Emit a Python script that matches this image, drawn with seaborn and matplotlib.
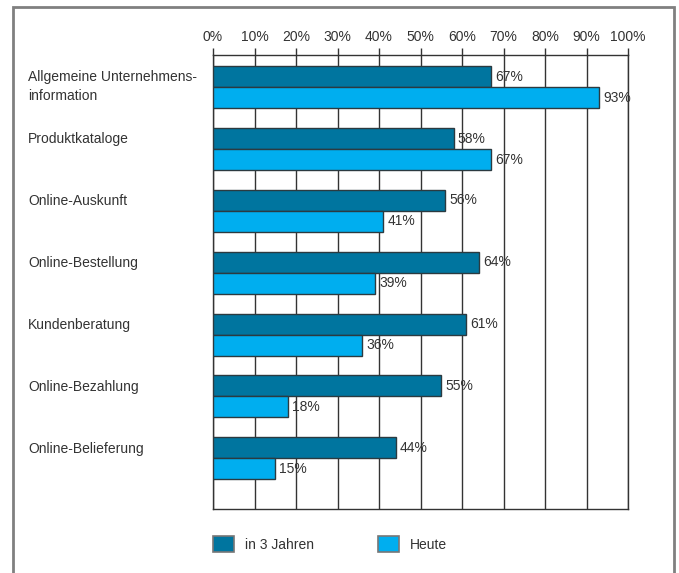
import matplotlib
matplotlib.use("Agg")
import matplotlib.pyplot as plt
from matplotlib.patches import Patch, Rectangle
from matplotlib.transforms import blended_transform_factory
import pandas as pd
import seaborn as sns

categories = [
    "Allgemeine Unternehmens-\ninformation",
    "Produktkataloge",
    "Online-Auskunft",
    "Online-Bestellung",
    "Kundenberatung",
    "Online-Bezahlung",
    "Online-Belieferung",
]
in_3_jahren = [67, 58, 56, 64, 61, 55, 44]
heute = [93, 67, 41, 39, 36, 18, 15]
series_names = ["in 3 Jahren", "Heute"]
tick_values = list(range(0, 101, 10))
tick_labels = [f"{v}%" for v in tick_values]

colors = {"in 3 Jahren": "#00759f", "Heute": "#00aeef"}

sns.set_theme(style="white")
plt.rcParams["font.family"] = ["Liberation Sans", "DejaVu Sans"]
plt.rcParams["text.color"] = "#333333"

df = pd.DataFrame({
    "Kategorie": categories * 2,
    "Wert": in_3_jahren + heute,
    "Reihe": [series_names[0]] * len(categories) + [series_names[1]] * len(categories),
})

W, H = 679, 573
fig = plt.figure(figsize=(W / 100, H / 100), dpi=100)
ax = fig.add_axes([213 / W, 1 - 509 / H, (628 - 213) / W, (509 - 55) / H])

sns.barplot(
    data=df, x="Wert", y="Kategorie", hue="Reihe", orient="h",
    palette=colors, saturation=1, width=0.68, edgecolor="#2b3a40",
    linewidth=1.0, ax=ax, legend=False, zorder=3,
)

ax.set_xlim(0, 100)
ax.set_ylim(6.82, -0.52)
ax.set_xlabel("")
ax.set_ylabel("")

# vertical grid and frame of the plot area
ax.set_axisbelow(True)
ax.grid(axis="x", color="#333333", linewidth=1.0)
ax.grid(axis="y", visible=False)
for side in ["top", "bottom", "left", "right"]:
    ax.spines[side].set_visible(True)
    ax.spines[side].set_color("#333333")
    ax.spines[side].set_linewidth(1.0)

ax.xaxis.tick_top()
ax.set_xticks(tick_values)
ax.set_xticklabels(tick_labels, fontsize=10, color="#333333")
ax.tick_params(axis="x", top=True, bottom=False, length=5, width=1.0,
               color="#333333", pad=3)
ax.set_yticks([])

# value labels on the bars
for cont in ax.containers:
    ax.bar_label(cont, labels=[f"{int(v)}%" for v in cont.datavalues],
                 padding=3, fontsize=10, color="#333333")

# category labels at the left
trans = blended_transform_factory(fig.transFigure, ax.transData)
for i, cat in enumerate(categories):
    ax.text(28 / W, i - 0.27, cat, transform=trans, ha="left", va="top",
            fontsize=10, linespacing=1.45, color="#333333")

# legend below the plot
handles = [Patch(facecolor=colors[n], edgecolor="#777777", linewidth=1.2)
           for n in series_names]
fig.legend(handles, series_names, loc="center left",
           bbox_to_anchor=(213 / W, 1 - 544 / H), ncol=2, frameon=False,
           fontsize=10, handlelength=1.5, handleheight=1.5,
           handletextpad=0.8, columnspacing=4.6, borderpad=0,
           borderaxespad=0)

# outer frame
fig.patches.append(Rectangle((12.5 / W, -0.05), (673.5 - 12.5) / W,
                             1 - 7 / H + 0.05, transform=fig.transFigure,
                             fill=False, edgecolor="#808080", linewidth=2))

fig.savefig("out.png", dpi=100)
